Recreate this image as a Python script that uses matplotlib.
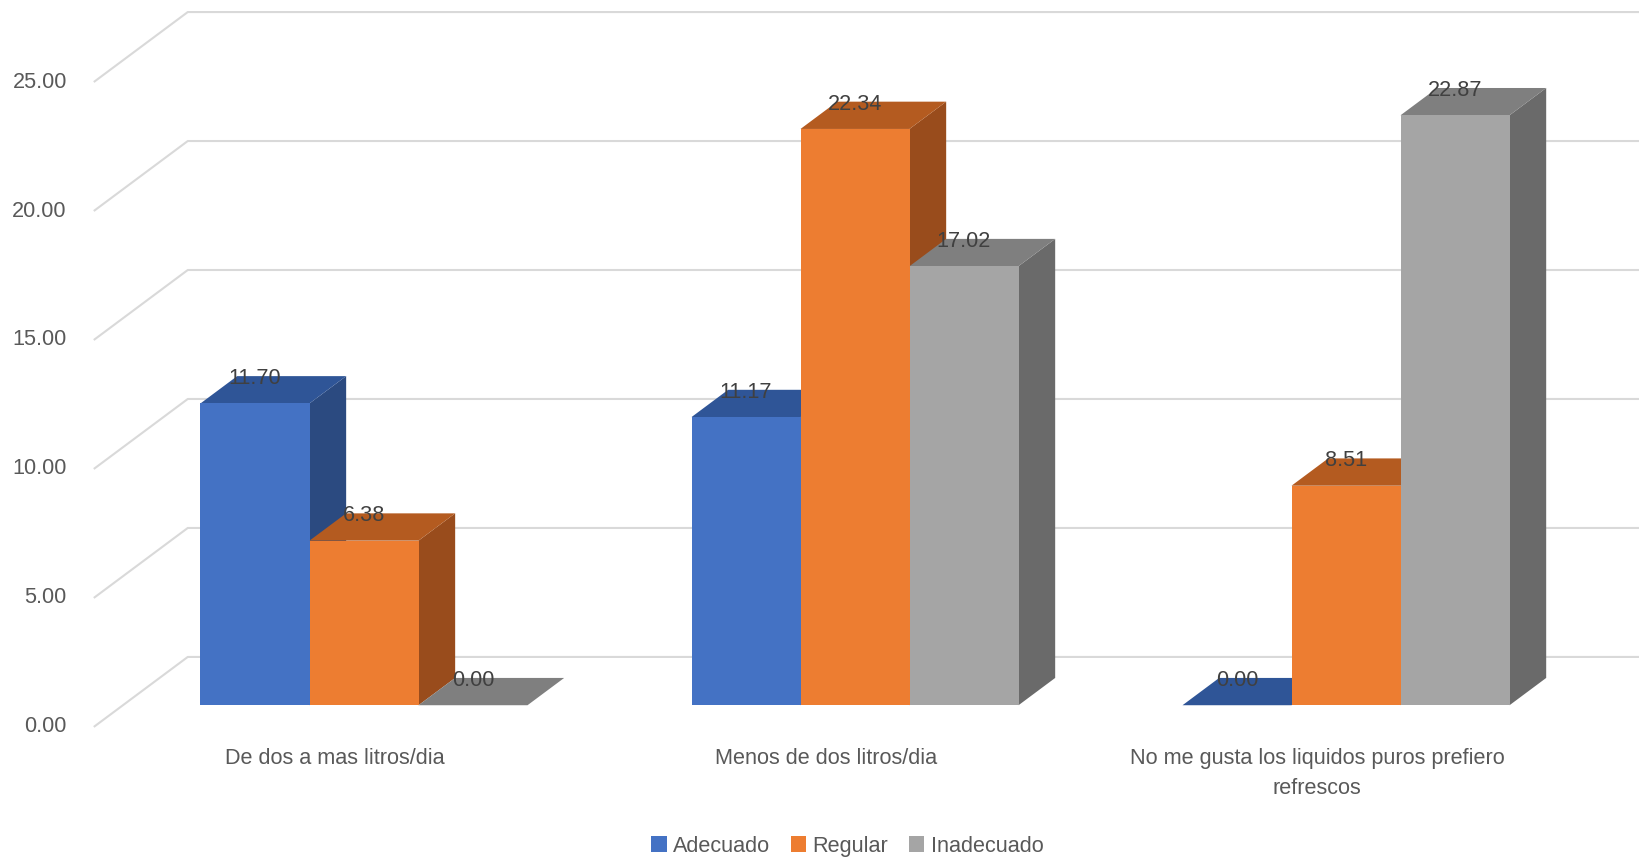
import matplotlib
matplotlib.use('Agg')
from matplotlib import pyplot as plt
from matplotlib.patches import Polygon, Patch
import numpy as np

plt.rcParams['font.family'] = ['Liberation Sans', 'DejaVu Sans']

categories = ['De dos a mas litros/dia', 'Menos de dos litros/dia',
              'No me gusta los liquidos puros prefiero\nrefrescos']
series = ['Adecuado', 'Regular', 'Inadecuado']
adecuado = [11.70, 11.17, 0.00]
regular = [6.38, 22.34, 8.51]
inadecuado = [0.00, 17.02, 22.87]
yticks = [0, 5, 10, 15, 20, 25]

values = [adecuado, regular, inadecuado]
front_colors = ['#4472C4', '#ED7D31', '#A5A5A5']
top_colors = ['#2F5597', '#B45B20', '#7F7F7F']
side_colors = ['#2B4A80', '#994C1C', '#6A6A6A']

# fake 3d geometry (data units)
depth_x, depth_y = 0.1914, 2.713   # full floor depth
f_front, f_back = 0.31, 0.70        # bar front/back along the depth
bar_w = 0.222

fig = plt.figure(figsize=(16.39, 8.59), dpi=100)
ax = fig.add_axes([0, 0, 1, 1])
ax.set_xlim(-0.682, 2.656)
ax.set_ylim(-5.12, 28.18)
ax.axis('off')

text_col = '#595959'
fs = 15.6

# gridlines: diagonal on the side wall + horizontal on the back wall
x_left = -0.491
for v in yticks:
    ax.plot([x_left, x_left + depth_x, 2.7], [v, v + depth_y, v + depth_y],
            color='#D9D9D9', lw=1.5, zorder=1, solid_capstyle='butt')
    ax.text(x_left - 0.055, v, f'{v:.2f}', ha='right', va='center',
            fontsize=fs, color=text_col)

bdx = (f_back - f_front) * depth_x
bdy = (f_back - f_front) * depth_y
base = f_front * depth_y

z = 2
for i, cat in enumerate(categories):
    for j in range(3):
        v = values[j][i]
        xl = i + f_front * depth_x + (j - 1.5) * bar_w
        top = base + v
        side = Polygon([(xl + bar_w, base), (xl + bar_w, top),
                        (xl + bar_w + bdx, top + bdy), (xl + bar_w + bdx, base + bdy)],
                       closed=True, facecolor=side_colors[j], edgecolor='none', zorder=z)
        ax.add_patch(side)
        roof = Polygon([(xl, top), (xl + bar_w, top),
                        (xl + bar_w + bdx, top + bdy), (xl + bdx, top + bdy)],
                       closed=True, facecolor=top_colors[j], edgecolor='none', zorder=z)
        ax.add_patch(roof)
        ax.bar(xl, v, bottom=base, width=bar_w, align='edge',
               color=front_colors[j], edgecolor='none', zorder=z + 0.5)
        ax.text(xl + bar_w / 2, top + bdy - 0.1, f'{v:.2f}', ha='center', va='center',
                fontsize=fs, color='#404040', zorder=10)
        z += 1
    ax.text(i, -0.82, cat, ha='center', va='top', fontsize=fs, color=text_col,
            linespacing=1.55)

handles = [Patch(facecolor=c, edgecolor='none') for c in front_colors]
fig.legend(handles, series, loc='center', bbox_to_anchor=(0.517, 0.015),
           ncol=3, frameon=False, fontsize=fs, handlelength=0.7, handleheight=0.7,
           handletextpad=0.3, columnspacing=0.95, labelcolor=text_col)

fig.savefig('out.png', dpi=100)
